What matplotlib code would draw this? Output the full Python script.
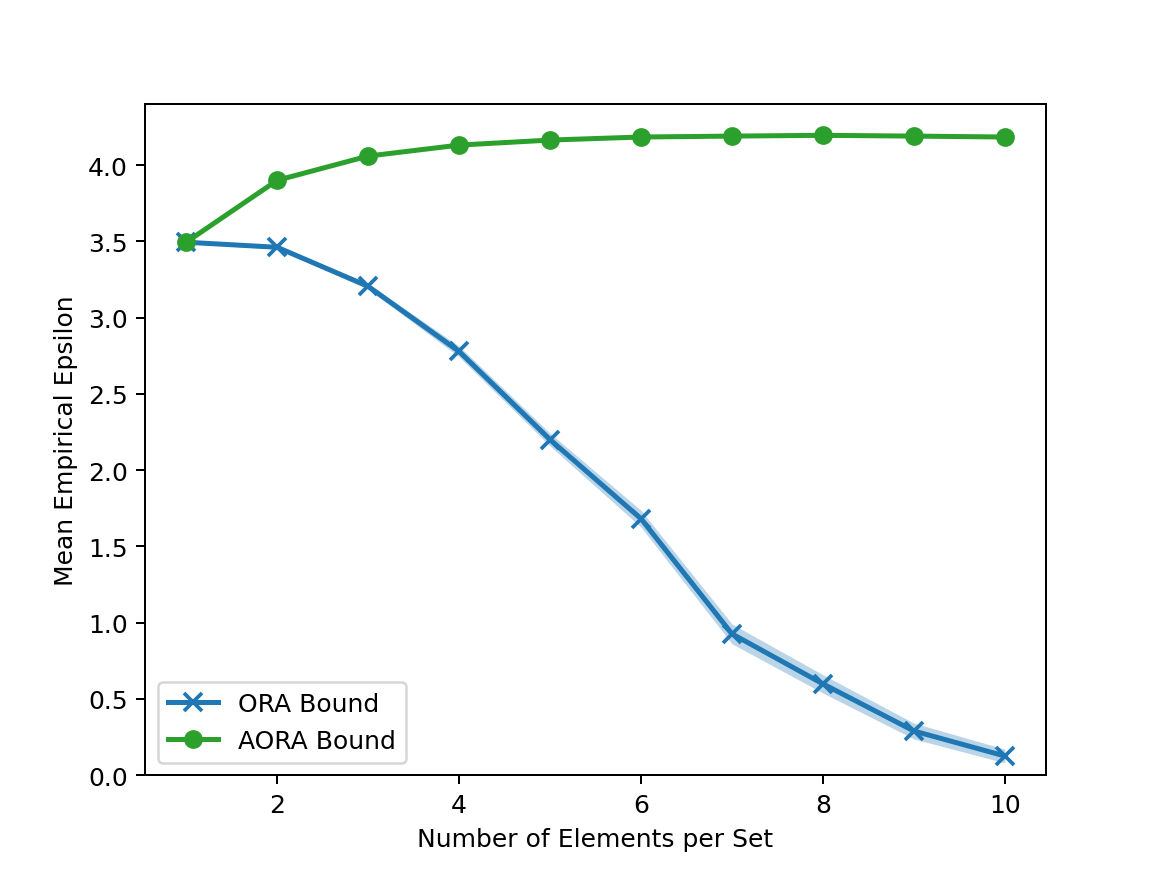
import matplotlib
matplotlib.use('Agg')
import matplotlib.pyplot as plt
import numpy as np

n_elements = np.arange(1, 11)
ora_mean = np.array([3.494, 3.461, 3.205, 2.778, 2.200, 1.681, 0.926, 0.598, 0.289, 0.125])
ora_std = np.array([0.008, 0.012, 0.018, 0.035, 0.042, 0.055, 0.065, 0.060, 0.052, 0.045])
aora_mean = np.array([3.494, 3.900, 4.059, 4.131, 4.164, 4.184, 4.190, 4.195, 4.190, 4.184])
aora_std = np.array([0.006, 0.004, 0.003, 0.003, 0.002, 0.002, 0.002, 0.002, 0.002, 0.002])

fig = plt.figure(figsize=(1162 / 180, 872 / 180), dpi=180)
ax = plt.subplot(111)
ax.plot(n_elements, ora_mean, marker='x', markersize=7, markeredgewidth=1.5, linewidth=2,
        color='tab:blue', label='ORA Bound')
ax.fill_between(n_elements, ora_mean - ora_std, ora_mean + ora_std, color='tab:blue', alpha=0.3, linewidth=0)
ax.plot(n_elements, aora_mean, marker='o', markersize=6.5, linewidth=2, color='tab:green', label='AORA Bound')
ax.fill_between(n_elements, aora_mean - aora_std, aora_mean + aora_std, color='tab:green', alpha=0.3, linewidth=0)
ax.set_ylim(bottom=0)
plt.xlabel('Number of Elements per Set')
plt.ylabel('Mean Empirical Epsilon')
plt.legend(loc='lower left')
plt.savefig('out.png', dpi=180)
